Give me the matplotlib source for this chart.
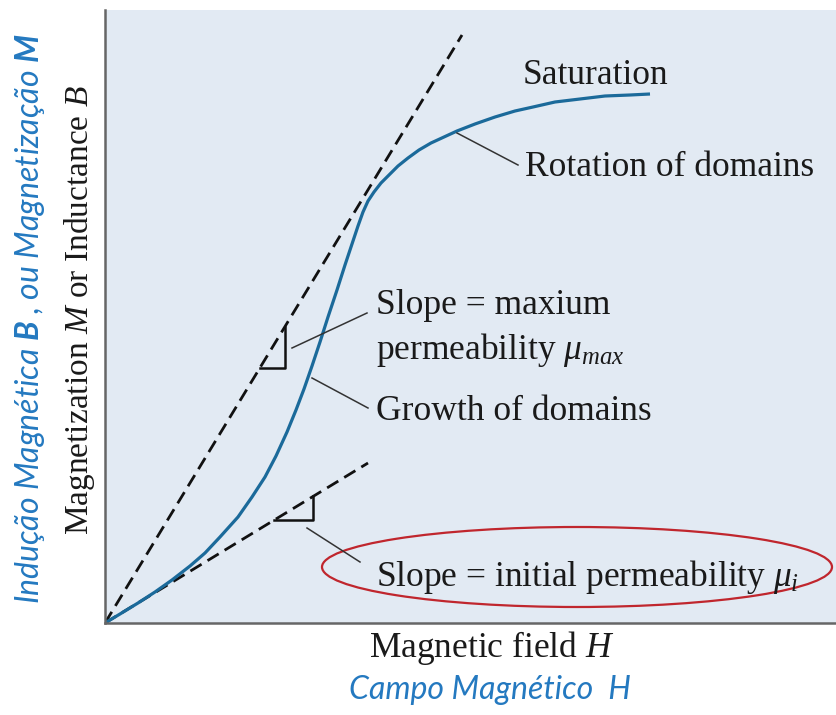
import matplotlib
matplotlib.use("Agg")
import matplotlib.pyplot as plt
from matplotlib.patches import Ellipse

plt.rcParams['mathtext.fontset'] = 'custom'
plt.rcParams['mathtext.rm'] = 'Liberation Serif'
plt.rcParams['mathtext.it'] = 'Liberation Serif:italic'
plt.rcParams['mathtext.bf'] = 'Lato:bold:italic'

# magnetization curve (H, M in arbitrary units)
H = [0, 15, 33, 50, 67, 85, 100, 115, 133, 147, 160, 171, 182, 191, 199,
     207, 215, 223, 232, 240, 247, 253, 258, 263, 269, 276, 284, 293, 303,
     314, 326, 339, 352, 370, 390, 410, 428, 450, 475, 500, 525, 545]
M = [0, 9, 20, 31, 43, 57, 70, 86, 106, 126, 146, 167, 191, 213, 234,
     257, 281, 306, 333, 358, 379, 397, 411, 422, 431, 440, 448, 457, 465,
     473, 480, 486, 492, 499, 506, 512, 516, 521, 524, 527, 528, 529]

# tangent lines: end points
max_line_end = (357, 588)
init_line_end = (263, 160)

labels = {
    'sat': 'Saturation',
    'rot': 'Rotation of domains',
    'max1': 'Slope = maxium',
    'max2': r'permeability $\mathit{\mu_{max}}$',
    'growth': 'Growth of domains',
    'init': r'Slope = initial permeability $\mathit{\mu_i}$',
}
xlabel = r'Magnetic field $\mathit{H}$'
ylabel = r'Magnetization $\mathit{M}$ or Inductance $\mathit{B}$'
xlabel_pt = 'Campo Magnético  H'
ylabel_pt = r'Indução Magnética $\mathbf{B}$ , ou Magnetização $\mathbf{M}$'

fig = plt.figure(figsize=(8.37, 7.15), dpi=100)
ax = fig.add_axes([105 / 837, 92 / 715, 732 / 837, 613 / 715])
ax.set_xlim(0, 732)
ax.set_ylim(0, 613)
ax.set_facecolor('#e2eaf3')
for s in ['top', 'right']:
    ax.spines[s].set_visible(False)
for s in ['left', 'bottom']:
    ax.spines[s].set_color('#666666')
    ax.spines[s].set_linewidth(1.8)
ax.set_xticks([])
ax.set_yticks([])

dash = (4.7, 2.5)
ax.plot([0, max_line_end[0]], [0, max_line_end[1]], color='#111111', lw=2, dashes=dash)
ax.plot([0, init_line_end[0]], [0, init_line_end[1]], color='#111111', lw=2, dashes=dash)
ax.plot(H, M, color='#1b6a9a', lw=2.3, solid_capstyle='butt', solid_joinstyle='round')

# small slope triangles
k_max = max_line_end[1] / max_line_end[0]
k_init = init_line_end[1] / init_line_end[0]
cx, cy = 180, 255
ax.plot([cy / k_max, cx, cx], [cy, cy, cx * k_max], color='#111111', lw=1.8)
cx, cy = 208, 103
ax.plot([cy / k_init, cx, cx], [cy, cy, cx * k_init], color='#111111', lw=1.8)

# leader lines
lead = '#333333'
ax.plot([187, 262], [275, 310], color=lead, lw=1.1)
ax.plot([207, 263], [245, 215], color=lead, lw=1.1)
ax.plot([202, 255], [95, 61], color=lead, lw=1.1)
ax.plot([352, 413], [490, 458], color=lead, lw=1.1)

tk = dict(fontsize=25.5, family='Liberation Serif', color='#1a1a1a', va='center', ha='left')
ax.text(418, 547, labels['sat'], **tk)
ax.text(420, 455, labels['rot'], **tk)
ax.text(271, 318, labels['max1'], **tk)
ax.text(271, 273, labels['max2'], **tk)
ax.text(271, 211, labels['growth'], **tk)
ax.text(271, 46, labels['init'], **tk)

ax.add_patch(Ellipse((472, 56), 510, 80, fill=False, edgecolor='#c0262d', lw=1.6, clip_on=False))

fig.text(492 / 837, 1 - 648 / 715, xlabel, fontsize=25.5, family='Liberation Serif',
         color='#1a1a1a', ha='center', va='center')
fig.text(80 / 837, 1 - 310 / 715, ylabel, fontsize=24, family='Liberation Serif',
         color='#1a1a1a', ha='center', va='center', rotation=90)

blue = '#2479c0'
fig.text(490 / 837, 1 - 690 / 715, xlabel_pt, fontsize=23, family='Lato', style='italic',
         color=blue, ha='center', va='center')
fig.text(30 / 837, 1 - 319 / 715, ylabel_pt, fontsize=23, family='Lato', style='italic',
         color=blue, ha='center', va='center', rotation=90)

fig.savefig('out.png', dpi=100)
